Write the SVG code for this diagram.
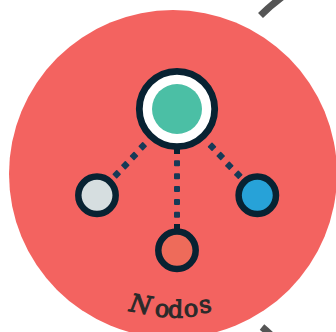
<svg xmlns="http://www.w3.org/2000/svg" width="336" height="332" viewBox="0 0 336 332">
<style>
.ring{stroke:#082232;stroke-width:6.500;}
.dot{fill:#163a57;}
.stub{fill:#082232;}
.arc{fill:none;stroke:#555555;stroke-width:7;}
.lbl{font-family:"DejaVu Serif",serif;fill:#2a2a2a;stroke:#2a2a2a;stroke-width:1;text-anchor:middle;font-size:24px;}
</style>
<rect width="336" height="332" fill="#ffffff"/>
<g id="background">
<path class="arc" d="M260.500 15.500Q270 6 282 -3"/>
<path class="arc" d="M262 327Q268 332 274 338"/>
<circle cx="173" cy="174" r="164" fill="#f36360"/>
</g>
<g id="connectors">
<rect class="stub" x="174" y="149" width="6" height="5"/>
<rect class="stub" x="174" y="224" width="6" height="5"/>
<g class="dot">
<rect x="174" y="160.300" width="6" height="6" rx="1"/>
<rect x="174" y="173.300" width="6" height="6" rx="1"/>
<rect x="174" y="186" width="6" height="6" rx="1"/>
<rect x="174" y="199" width="6" height="6" rx="1"/>
<rect x="174" y="211.700" width="6" height="6" rx="1"/>
<rect x="-3.200" y="-3.200" width="6.400" height="6.400" rx="0.800" transform="translate(142.700 146.300) rotate(45)"/>
<rect x="-3.200" y="-3.200" width="6.400" height="6.400" rx="0.800" transform="translate(134 156) rotate(45)"/>
<rect x="-3.200" y="-3.200" width="6.400" height="6.400" rx="0.800" transform="translate(125.300 165.300) rotate(45)"/>
<rect x="-3.200" y="-3.200" width="6.400" height="6.400" rx="0.800" transform="translate(116.700 174.300) rotate(45)"/>
<rect x="-3.200" y="-3.200" width="6.400" height="6.400" rx="0.800" transform="translate(212 146.700) rotate(45)"/>
<rect x="-3.200" y="-3.200" width="6.400" height="6.400" rx="0.800" transform="translate(220.700 156) rotate(45)"/>
<rect x="-3.200" y="-3.200" width="6.400" height="6.400" rx="0.800" transform="translate(229.300 165.700) rotate(45)"/>
<rect x="-3.200" y="-3.200" width="6.400" height="6.400" rx="0.800" transform="translate(238.300 174.700) rotate(45)"/>
</g>
</g>
<g id="node-center">
<circle cx="177" cy="109" r="37.700" fill="#ffffff" stroke="#082232" stroke-width="6.800"/>
<circle cx="177" cy="109" r="25" fill="#4bbfa5"/>
</g>
<g id="node-left"><circle class="ring" cx="97" cy="195.300" r="18.700" fill="#d6dee0"/></g>
<g id="node-right"><circle class="ring" cx="257.300" cy="195.300" r="18.700" fill="#27a2d8"/></g>
<g id="node-bottom"><circle class="ring" cx="177" cy="250.300" r="18.700" fill="#ee6b5a"/></g>
<g id="label">
<text class="lbl"><tspan x="139.500" y="311" rotate="10" font-size="25" font-style="italic">N</tspan><tspan x="161.500 175.500 191.500 206.500" y="316 317.500 317 313.500" rotate="6 1 -4 -9">odos</tspan></text>
</g>
</svg>
